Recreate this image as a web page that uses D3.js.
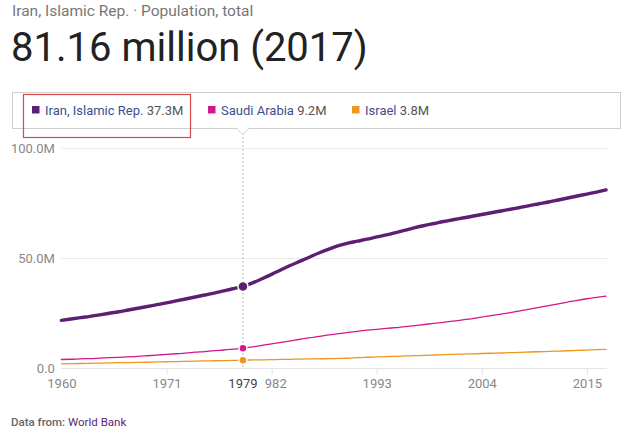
<!DOCTYPE html>
<html>
<head>
<meta charset="utf-8">
<script src="https://cdn.jsdelivr.net/npm/d3@7"></script>
<style>
  html, body { margin: 0; padding: 0; background: #fff; }
  svg { display: block; font-family: Roboto, "Noto Sans", sans-serif; }
</style>
</head>
<body>
<svg id="chart" width="624" height="439"></svg>
<script>
// ---- data ----
const years = d3.range(1960, 2018);
const iran = [21.9, 22.5, 23.1, 23.7, 24.4, 25.1, 25.8, 26.6, 27.4, 28.2,
  29.0, 29.8, 30.7, 31.6, 32.5, 33.4, 34.3, 35.3, 36.3, 37.3,
  38.9, 40.8, 42.8, 44.9, 46.9, 48.8, 50.7, 52.6, 54.3, 55.8,
  57.0, 57.9, 58.8, 59.8, 60.7, 61.8, 62.9, 64.0, 65.0, 65.9,
  66.8, 67.6, 68.4, 69.2, 70.0, 70.8, 71.6, 72.4, 73.2, 74.0,
  74.9, 75.7, 76.6, 77.5, 78.4, 79.3, 80.2, 81.16];
const saudi = [4.1, 4.2, 4.4, 4.5, 4.7, 4.9, 5.1, 5.3, 5.5, 5.8,
  6.1, 6.4, 6.7, 7.0, 7.4, 7.7, 8.1, 8.4, 8.8, 9.2,
  9.8, 10.5, 11.2, 11.9, 12.6, 13.3, 14.0, 14.6, 15.3, 15.9,
  16.4, 16.9, 17.4, 17.8, 18.2, 18.6, 19.0, 19.5, 20.0, 20.5,
  21.0, 21.5, 22.1, 22.7, 23.4, 24.0, 24.7, 25.4, 26.2, 27.0,
  27.8, 28.6, 29.4, 30.2, 31.0, 31.7, 32.3, 32.9];
const israel = [2.11, 2.18, 2.28, 2.37, 2.47, 2.56, 2.63, 2.69, 2.75, 2.84,
  2.97, 3.07, 3.17, 3.28, 3.38, 3.46, 3.53, 3.61, 3.69, 3.80,
  3.88, 3.95, 4.03, 4.11, 4.18, 4.27, 4.33, 4.40, 4.47, 4.56,
  4.66, 4.95, 5.12, 5.26, 5.40, 5.55, 5.70, 5.84, 5.97, 6.13,
  6.29, 6.44, 6.57, 6.69, 6.81, 6.93, 7.05, 7.18, 7.31, 7.49,
  7.62, 7.77, 7.91, 8.06, 8.22, 8.38, 8.55, 8.71];
const seriesNames = ["Iran, Islamic Rep.", "Saudi Arabia", "Israel"];
const legendValues = ["37.3M", "9.2M", "3.8M"];
const seriesColors = ["#5c1f72", "#d3178c", "#f0951e"];
const xTickYears = [1960, 1971, 1982, 1993, 2004, 2015];
const yTickValues = [0, 50, 100];
const yTickLabels = ["0.0", "50.0M", "100.0M"];
const highlightYear = 1979;
const subtitle = "Iran, Islamic Rep. \u00b7 Population, total";
const headline = "81.16 million (2017)";

// ---- setup ----
const svg = d3.select("#chart");
const x = d3.scaleLinear().domain([1960, 2017]).range([61.4, 606]);
const y = d3.scaleLinear().domain([0, 100]).range([368.5, 148.5]);

// header
svg.append("text").attr("x", 12).attr("y", 15.5)
  .attr("font-size", 15.5).attr("fill", "#777").text(subtitle);
svg.append("text").attr("x", 11).attr("y", 61)
  .attr("font-size", 40).attr("fill", "#222").text(headline);

// gridlines
svg.append("g").selectAll("line").data(yTickValues.filter(v => v > 0)).join("line")
  .attr("x1", x(1960)).attr("x2", 607)
  .attr("y1", d => y(d)).attr("y2", d => y(d))
  .attr("stroke", "#e9e9e9").attr("stroke-width", 1);

// y axis
const yAxis = d3.axisLeft(y).tickValues(yTickValues)
  .tickFormat((d, i) => yTickLabels[i]).tickSize(0).tickPadding(6.5);
const gy = svg.append("g").attr("transform", `translate(${x(1960)},0)`).call(yAxis);
gy.select(".domain").remove();
gy.selectAll("text").attr("font-size", 13).attr("fill", "#888")
  .attr("font-family", "Roboto, sans-serif");

// x axis
const xAxis = d3.axisBottom(x).tickValues(xTickYears).tickFormat(d3.format("d"))
  .tickSize(6).tickPadding(4);
const gx = svg.append("g").attr("transform", `translate(0,${y(0)})`).call(xAxis);
gx.select(".domain").attr("stroke", "#e4e4e4").attr("d", `M${x(1960)},0H607`);
gx.selectAll(".tick line").attr("stroke", "#e4e4e4");
gx.selectAll(".tick").filter(d => d === 1960).select("line").remove();
gx.selectAll("text").attr("font-size", 13).attr("fill", "#888")
  .attr("font-family", "Roboto, sans-serif");

// highlight vertical dotted line
svg.append("line")
  .attr("x1", x(highlightYear)).attr("x2", x(highlightYear))
  .attr("y1", 129).attr("y2", y(0))
  .attr("stroke", "#bbb").attr("stroke-width", 1).attr("stroke-dasharray", "2,2");

// highlight year label with white background
const hl = svg.append("g").attr("transform", `translate(${x(highlightYear)},${y(0) + 6 + 4})`);
hl.append("rect").attr("x", -18).attr("y", 0).attr("width", 39.5).attr("height", 15).attr("fill", "#fff");
hl.append("text").attr("y", 0).attr("dy", "0.71em").attr("text-anchor", "middle")
  .attr("font-size", 13).attr("fill", "#444").text(highlightYear);

// lines
const allSeries = [iran, saudi, israel];
const widths = [3.4, 1.3, 1.3];
const line = d3.line().x((d, i) => x(years[i])).y(d => y(d)).curve(d3.curveMonotoneX);
// draw back to front: israel, saudi, iran
[2, 1, 0].forEach(si => {
  svg.append("path").datum(allSeries[si])
    .attr("fill", "none").attr("stroke", seriesColors[si])
    .attr("stroke-width", widths[si]).attr("stroke-linejoin", "round")
    .attr("stroke-linecap", "round").attr("d", line);
});

// highlight dots
const hi = years.indexOf(highlightYear);
const radii = [5, 4, 4];
[2, 1, 0].forEach(si => {
  svg.append("circle")
    .attr("cx", x(highlightYear)).attr("cy", y(allSeries[si][hi]))
    .attr("r", radii[si]).attr("fill", seriesColors[si])
    .attr("stroke", "#fff").attr("stroke-width", 1.5);
});

// legend box
const lg = svg.append("g");
lg.append("rect").attr("x", 12.5).attr("y", 92.5).attr("width", 608).attr("height", 36)
  .attr("fill", "#fff").attr("stroke", "#cfcfcf").attr("stroke-width", 1);
// pointer notch
const px = x(highlightYear);
lg.append("path").attr("d", `M${px - 6},128.5L${px},134.5L${px + 6},128.5`)
  .attr("fill", "#fff").attr("stroke", "#cfcfcf").attr("stroke-width", 1);
lg.append("line").attr("x1", px - 5).attr("x2", px + 5).attr("y1", 128.5).attr("y2", 128.5)
  .attr("stroke", "#fff").attr("stroke-width", 1.5);

const legendX = [32, 208, 352];
seriesNames.forEach((name, i) => {
  lg.append("rect").attr("x", legendX[i]).attr("y", 106).attr("width", 7.5).attr("height", 7.5)
    .attr("fill", seriesColors[i]);
  const t = lg.append("text").attr("x", legendX[i] + 13).attr("y", 115).attr("font-size", 13);
  t.append("tspan").attr("fill", "#3b4f8e").text(name + " ");
  t.append("tspan").attr("fill", "#555").text(legendValues[i]);
});

// red annotation rectangle
svg.append("rect").attr("x", 23.5).attr("y", 94.5).attr("width", 167).attr("height", 43)
  .attr("fill", "none").attr("stroke", "#d24a4a").attr("stroke-width", 1.2);

// footer
const ft = svg.append("text").attr("x", 11).attr("y", 426).attr("font-size", 11.5)
  .attr("font-weight", 500);
ft.append("tspan").attr("fill", "#666").text("Data from: ");
ft.append("tspan").attr("fill", "#5c1f72").attr("font-weight", 400).text("World Bank");
</script>
</body>
</html>
